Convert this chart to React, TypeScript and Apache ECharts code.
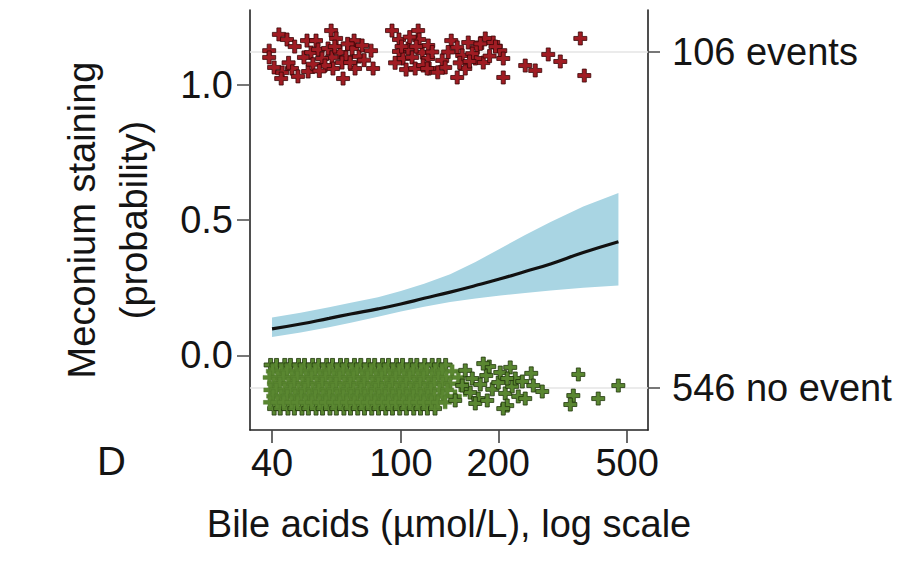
import React, { useEffect, useRef } from 'react';
import * as echarts from 'echarts';

// ---- axis settings / tick values ----
const xMin = 34.2;
const xMax = 580;
const yMin = -0.275;
const yMax = 1.275;
const xTicks = [40, 100, 200, 500];
const yTicks = [0, 0.5, 1];
const groupY = [-0.12, 1.12];
const groupLabels = ['546 no event', '106 events'];
const yTitle = 'Meconium staining\n(probability)';
const xTitle = 'Bile acids (\u00b5mol/L), log scale';
const panelLabel = 'D';

// ---- fitted probability and 95% CI ----
const fitX = [40, 49, 60, 70, 85, 100, 118, 142, 170, 203, 242, 290, 366, 470];
const fitY = [0.098, 0.116, 0.137, 0.153, 0.172, 0.19, 0.211, 0.234, 0.258, 0.283, 0.31, 0.338, 0.38, 0.42];
const ciLow = [0.068, 0.085, 0.104, 0.121, 0.143, 0.162, 0.18, 0.197, 0.21, 0.221, 0.231, 0.24, 0.25, 0.258];
const ciHigh = [0.14, 0.158, 0.178, 0.195, 0.215, 0.238, 0.265, 0.3, 0.345, 0.395, 0.445, 0.493, 0.55, 0.6];

// ---- events (jittered around 1) ----
const eventPoints = [
  [42.0, 1.185], [44.5, 1.166], [39.2, 1.125], [39.2, 1.1], [40.6, 1.063], [43.0, 1.044],
  [42.7, 1.022], [46.1, 1.059], [48.1, 1.03], [51.7, 1.048], [51.3, 1.162], [54.7, 1.162],
  [50.2, 1.1], [52.8, 1.118], [55.5, 1.129], [59.6, 1.133], [60.9, 1.199], [63.1, 1.17],
  [61.3, 1.1], [64.9, 1.118], [67.7, 1.1], [71.7, 1.162], [70.7, 1.133], [74.3, 1.103],
  [75.9, 1.144], [80.9, 1.125], [82.1, 1.059], [72.2, 1.059], [66.3, 1.022], [61.7, 1.059],
  [93.9, 1.199], [98.7, 1.166], [98.7, 1.122], [101.6, 1.096], [108.3, 1.1], [103.8, 1.055],
  [113.1, 1.199], [113.9, 1.166], [116.4, 1.118], [121.5, 1.096], [122.3, 1.059],
  [57.1, 1.096], [65.8, 1.081], [58.3, 1.07], [69.7, 1.081], [110.7, 1.059], [105.3, 1.133],
  [117.2, 1.07], [121.5, 1.144], [120.6, 1.059], [134.2, 1.089], [143.1, 1.162], [149.3, 1.137],
  [154.7, 1.107], [161.5, 1.155], [172.2, 1.137], [182.3, 1.17], [192.9, 1.155], [202.8, 1.125],
  [207.2, 1.096], [179.7, 1.081], [169.8, 1.096], [158.1, 1.059], [149.3, 1.026], [207.2, 1.026],
  [242.2, 1.07], [260.1, 1.052], [285.3, 1.111], [310.8, 1.085], [358.4, 1.17], [368.7, 1.033],
  [166.2, 1.114], [137.1, 1.063], [47.0, 1.14], [53.5, 1.075], [62.5, 1.14], [68.5, 1.15],
  [77.0, 1.09], [96.0, 1.08], [106.5, 1.175], [111.5, 1.14], [125.0, 1.12], [140.0, 1.12],
  [152.0, 1.08], [163.0, 1.085], [176.0, 1.15], [188.0, 1.105], [196.0, 1.14], [130.0, 1.045],
  [45.0, 1.08], [56.0, 1.05], [100.5, 1.14],
];

// ---- no events (jittered around 0): dense rows + sparse tail ----
const noEventRowY = [-0.035, -0.058, -0.081, -0.104, -0.127, -0.15, -0.173, -0.196];
const noEventRowX = [
  [39.6, 41.3, 43.8, 45.6, 48.3, 50.4, 53.4, 55.7, 59.0, 61.5, 65.1, 68.0, 71.9, 75.2, 79.5, 83.0, 87.8, 91.6, 97.0, 101.2, 107.3, 112.0, 118.5, 125.0, 131.0, 137.5],
  [40.2, 42.7, 44.5, 47.2, 49.2, 52.1, 54.4, 57.6, 60.1, 63.5, 66.4, 70.3, 73.2, 77.6, 81.0, 85.7, 89.4, 94.6, 98.8, 104.5, 109.2, 115.6, 120.5, 127.8, 134.0, 144.0],
  [39.3, 41.6, 43.4, 46.0, 47.9, 50.8, 53.0, 56.1, 58.6, 61.9, 64.7, 68.5, 71.5, 75.7, 78.9, 83.6, 87.2, 92.3, 96.4, 102.0, 106.5, 112.6, 117.6, 124.5, 130.8, 138.0, 150.5],
  [40.5, 42.3, 44.9, 46.8, 49.6, 51.7, 54.8, 57.2, 60.5, 63.1, 66.8, 69.8, 73.8, 77.0, 81.5, 85.2, 90.0, 94.0, 99.4, 103.9, 109.8, 114.8, 121.4, 126.9, 134.5, 142.0, 155.0],
  [39.5, 41.2, 43.7, 45.7, 48.2, 50.5, 53.3, 55.8, 58.9, 61.6, 65.0, 68.3, 71.6, 75.3, 79.3, 83.4, 87.4, 92.1, 96.8, 101.5, 107.0, 112.1, 118.2, 123.8, 131.5, 139.0, 158.0],
  [40.3, 42.6, 44.6, 47.1, 49.3, 52.0, 54.5, 57.5, 60.2, 63.4, 66.5, 70.1, 73.4, 77.4, 81.1, 85.5, 89.6, 94.4, 99.0, 104.3, 109.4, 115.3, 121.2, 127.0, 134.8, 147.0],
  [39.4, 41.5, 43.5, 45.9, 48.0, 50.7, 53.1, 56.0, 58.7, 61.8, 64.8, 68.1, 71.8, 75.5, 79.1, 83.2, 87.6, 91.8, 96.6, 101.8, 106.6, 112.4, 117.8, 124.3, 130.2, 137.0],
  [40.6, 42.4, 44.8, 46.9, 49.5, 51.8, 54.7, 57.3, 60.4, 63.2, 66.7, 69.9, 73.6, 77.2, 81.3, 85.3, 89.8, 94.2, 99.2, 104.0, 109.6, 115.0, 120.8, 127.5],
];
const noEventTail = [
  [158.1, -0.055], [166.2, -0.085], [175.9, -0.107], [183.6, -0.074], [191.6, -0.125],
  [199.9, -0.1], [210.1, -0.14], [220.8, -0.114], [230.5, -0.151], [163.8, -0.137],
  [173.4, -0.159], [154.7, -0.111], [187.5, -0.041], [202.8, -0.063], [147.2, -0.166],
  [225.6, -0.085], [179.7, -0.03], [217.7, -0.044], [252.8, -0.066], [213.1, -0.085],
  [237.2, -0.096], [256.5, -0.111], [273.4, -0.133], [242.2, -0.159], [213.1, -0.185],
  [169.8, -0.177], [184.9, -0.166], [207.2, -0.196], [353.4, -0.07], [341.0, -0.148],
  [333.8, -0.181], [407.1, -0.159], [469.6, -0.111],
];

const FONT = '"Liberation Sans", Arial, Helvetica, sans-serif';
const TEXT = '#141414';
const FS = 38;
const PLUS = 'path://M4.5,0H8.5V4.5H13V8.5H8.5V13H4.5V8.5H0V4.5H4.5Z';
const GREEN = '#5a8731';

export default function App() {
  const ref = useRef<HTMLDivElement>(null);

  useEffect(() => {
    if (!ref.current) return;
    const chart = echarts.init(ref.current, null, { renderer: 'svg' });

    const lastRow = noEventRowX.length - 1;
    const noEventEdge: number[][] = [];
    const noEventInner: number[][] = [];
    noEventRowX.forEach((row, r) =>
      row.forEach((x) => {
        if (r === 0 || r === lastRow) noEventEdge.push([x, noEventRowY[r]]);
        else noEventInner.push([x, noEventRowY[r]]);
      })
    );

    const plusSeries = (data: number[][], color: string, border: string, bw: number) => ({
      type: 'scatter',
      z: 4,
      symbol: PLUS,
      symbolSize: 13,
      data,
      itemStyle: { color, borderColor: border, borderWidth: bw, opacity: 1 },
    });

    const option: any = {
      animation: false,
      backgroundColor: '#ffffff',
      textStyle: { fontFamily: FONT },
      grid: { left: 250, right: 260, top: 10, bottom: 140, containLabel: false, outerBoundsMode: 'none' },
      graphic: [
        {
          type: 'text',
          left: 97,
          top: 441,
          style: { text: panelLabel, fontSize: 40, fill: TEXT, fontFamily: FONT },
        },
      ],
      xAxis: {
        type: 'log',
        logBase: 10,
        min: xMin,
        max: xMax,
        position: 'bottom',
        name: xTitle,
        nameLocation: 'middle',
        nameGap: 75,
        nameMoveOverlap: false,
        nameTextStyle: { fontSize: FS, color: TEXT, fontFamily: FONT },
        axisLine: { show: true, onZero: false, lineStyle: { color: '#222', width: 1.6 } },
        axisTick: { show: true, inside: false, length: 13, customValues: xTicks, lineStyle: { color: '#444', width: 1.6 } },
        minorTick: { show: false },
        axisLabel: {
          show: true,
          customValues: xTicks,
          margin: 14,
          fontSize: FS,
          color: TEXT,
          fontFamily: FONT,
          formatter: (v: number) => String(Math.round(v)),
        },
        splitLine: { show: false },
      },
      yAxis: [
        {
          type: 'value',
          position: 'left',
          min: yMin,
          max: yMax,
          name: yTitle,
          nameLocation: 'middle',
          nameGap: 90,
          nameMoveOverlap: false,
          nameTextStyle: { fontSize: FS, lineHeight: 52, color: TEXT, fontFamily: FONT, align: 'center' },
          axisLine: { show: true, onZero: false, lineStyle: { color: '#222', width: 1.6 } },
          axisTick: { show: true, inside: false, length: 13, customValues: yTicks, lineStyle: { color: '#555', width: 1.6 } },
          axisLabel: {
            show: true,
            customValues: yTicks,
            margin: 17,
            fontSize: FS,
            color: TEXT,
            fontFamily: FONT,
            formatter: (v: number) => Number(v).toFixed(1),
          },
          splitLine: { show: false },
        },
        {
          type: 'value',
          position: 'right',
          min: yMin,
          max: yMax,
          axisLine: { show: true, onZero: false, lineStyle: { color: '#222', width: 1.6 } },
          axisTick: { show: true, inside: false, length: 12, customValues: groupY, lineStyle: { color: '#555', width: 1.6 } },
          axisLabel: {
            show: true,
            customValues: groupY,
            margin: 24,
            fontSize: FS,
            color: TEXT,
            fontFamily: FONT,
            formatter: (v: number) => {
              let best = 0;
              groupY.forEach((g, i) => {
                if (Math.abs(g - v) < Math.abs(groupY[best] - v)) best = i;
              });
              return groupLabels[best];
            },
          },
          splitLine: { show: false },
        },
      ],
      series: [
        // faint reference lines at the group positions
        ...groupY.map((g) => ({
          type: 'line',
          silent: true,
          z: 0,
          symbol: 'none',
          data: [[xMin, g], [xMax, g]],
          lineStyle: { color: '#e4e4e4', width: 1.5 },
        })),
        // 95% CI band
        {
          type: 'custom',
          silent: true,
          z: 1,
          data: fitX.map((x, i) => [x, ciLow[i], ciHigh[i]]),
          encode: { x: 0, y: [1, 2] },
          renderItem: (params: any, api: any) => {
            if (params.dataIndex !== 0) return { type: 'group', children: [] };
            const top = fitX.map((x, i) => api.coord([x, ciHigh[i]]));
            const bottom = fitX.map((x, i) => api.coord([x, ciLow[i]])).reverse();
            return {
              type: 'polygon',
              shape: { points: top.concat(bottom) },
              style: { fill: '#a9d5e3', stroke: 'none' },
            };
          },
        },
        {
          type: 'line',
          silent: true,
          z: 3,
          smooth: true,
          symbol: 'none',
          data: fitX.map((x, i) => [x, fitY[i]]),
          lineStyle: { color: '#111111', width: 3.2 },
        },
        plusSeries(noEventEdge, GREEN, '#1f360b', 0.8),
        plusSeries(noEventInner, GREEN, '#4b7428', 0.4),
        plusSeries(noEventTail, GREEN, '#1f360b', 0.8),
        plusSeries(eventPoints, '#a01c23', '#3a0608', 0.8),
      ],
    };

    chart.setOption(option);
    return () => chart.dispose();
  }, []);

  return (
    <div
      ref={ref}
      style={{ position: 'fixed', left: 0, top: 0, width: 908, height: 570, background: '#ffffff' }}
    />
  );
}
